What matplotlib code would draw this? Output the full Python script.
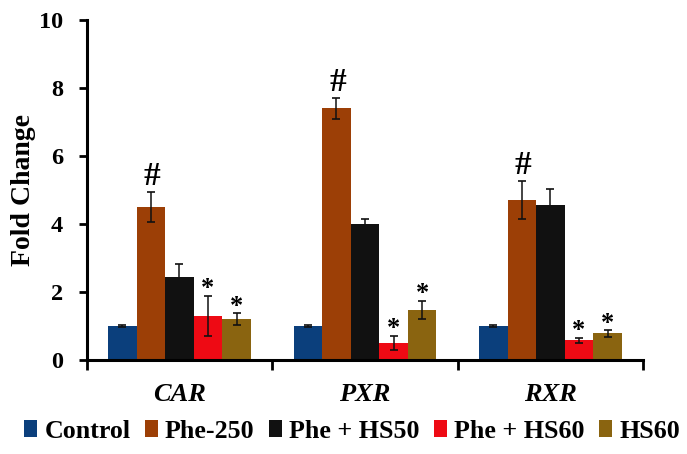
import matplotlib
matplotlib.use('Agg')
import matplotlib.pyplot as plt
import numpy as np

plt.rcParams['font.family'] = ['Liberation Serif', 'DejaVu Serif']
plt.rcParams['font.weight'] = 'bold'
plt.rcParams['axes.labelweight'] = 'bold'

genes = ['CAR', 'PXR', 'RXR']
groups = ['Control', 'Phe-250', 'Phe + HS50', 'Phe + HS60', 'HS60']
colors = ['#0b3f7c', '#9c3f06', '#111111', '#ee0a14', '#8a6410']

control = [1.0, 1.0, 1.0]
phe250 = [4.5, 7.4, 4.7]
phe_hs50 = [2.45, 4.0, 4.55]
phe_hs60 = [1.3, 0.5, 0.58]
hs60 = [1.2, 1.47, 0.78]

control_err = [0.02, 0.02, 0.02]
phe250_err = [0.45, 0.3, 0.55]
phe_hs50_err = [0.38, 0.15, 0.47]
phe_hs60_err = [0.58, 0.22, 0.07]
hs60_err = [0.17, 0.27, 0.09]

values = [control, phe250, phe_hs50, phe_hs60, hs60]
errors = [control_err, phe250_err, phe_hs50_err, phe_hs60_err, hs60_err]
# significance marks per group
marks = [None, '#', None, '*', '*']

W, H = 687, 454
fig = plt.figure(figsize=(W / 100, H / 100), dpi=100)
ax = fig.add_axes([86.7 / W, (H - 360) / H, 556.5 / W, 340 / H])

x = np.arange(len(genes))
bar_w = 0.154

handles = []
for i, (vals, errs) in enumerate(zip(values, errors)):
    pos = x + (i - 2) * bar_w
    b = ax.bar(pos, vals, bar_w, color=colors[i], label=groups[i], zorder=2)
    handles.append(b)
    ax.errorbar(pos, vals, yerr=errs, fmt='none', ecolor='#111111',
                elinewidth=1.1, capsize=3, capthick=1.2, zorder=3)
    if marks[i]:
        for p, v, e in zip(pos, vals, errs):
            if marks[i] == '#':
                ax.annotate('#', (p, v + e), xytext=(1, 0), textcoords='offset points',
                            ha='center', va='bottom', fontsize=24)
            else:
                ax.annotate('*', (p, v + e), xytext=(0, -3), textcoords='offset points',
                            ha='center', va='bottom', fontsize=19)

ax.set_xlim(-0.5, 2.5)
ax.set_ylim(0, 10)
ax.set_yticks([0, 2, 4, 6, 8, 10])
ax.set_xticks([-0.5, 0.5, 1.5, 2.5])
ax.set_xticklabels([])
ax.tick_params(axis='y', length=6, width=2, labelsize=17.5, pad=11, direction='out')
ax.tick_params(axis='x', length=7, width=2, direction='out')
for s in ['top', 'right']:
    ax.spines[s].set_visible(False)
for s in ['left', 'bottom']:
    ax.spines[s].set_linewidth(2.2)

for p, g in zip(x, genes):
    ax.text(p, -0.68, g, ha='center', va='top', fontsize=19, style='italic')

ax.set_ylabel('Fold Change', fontsize=20, labelpad=2)

fig.legend(handles=handles, loc='center', bbox_to_anchor=(352 / W, (H - 431) / H), ncol=5,
           frameon=False, fontsize=18.7, handlelength=0.5, handleheight=0.6,
           handletextpad=0.28, columnspacing=0.55, borderpad=0, borderaxespad=0)

fig.savefig('out.png', dpi=100)
